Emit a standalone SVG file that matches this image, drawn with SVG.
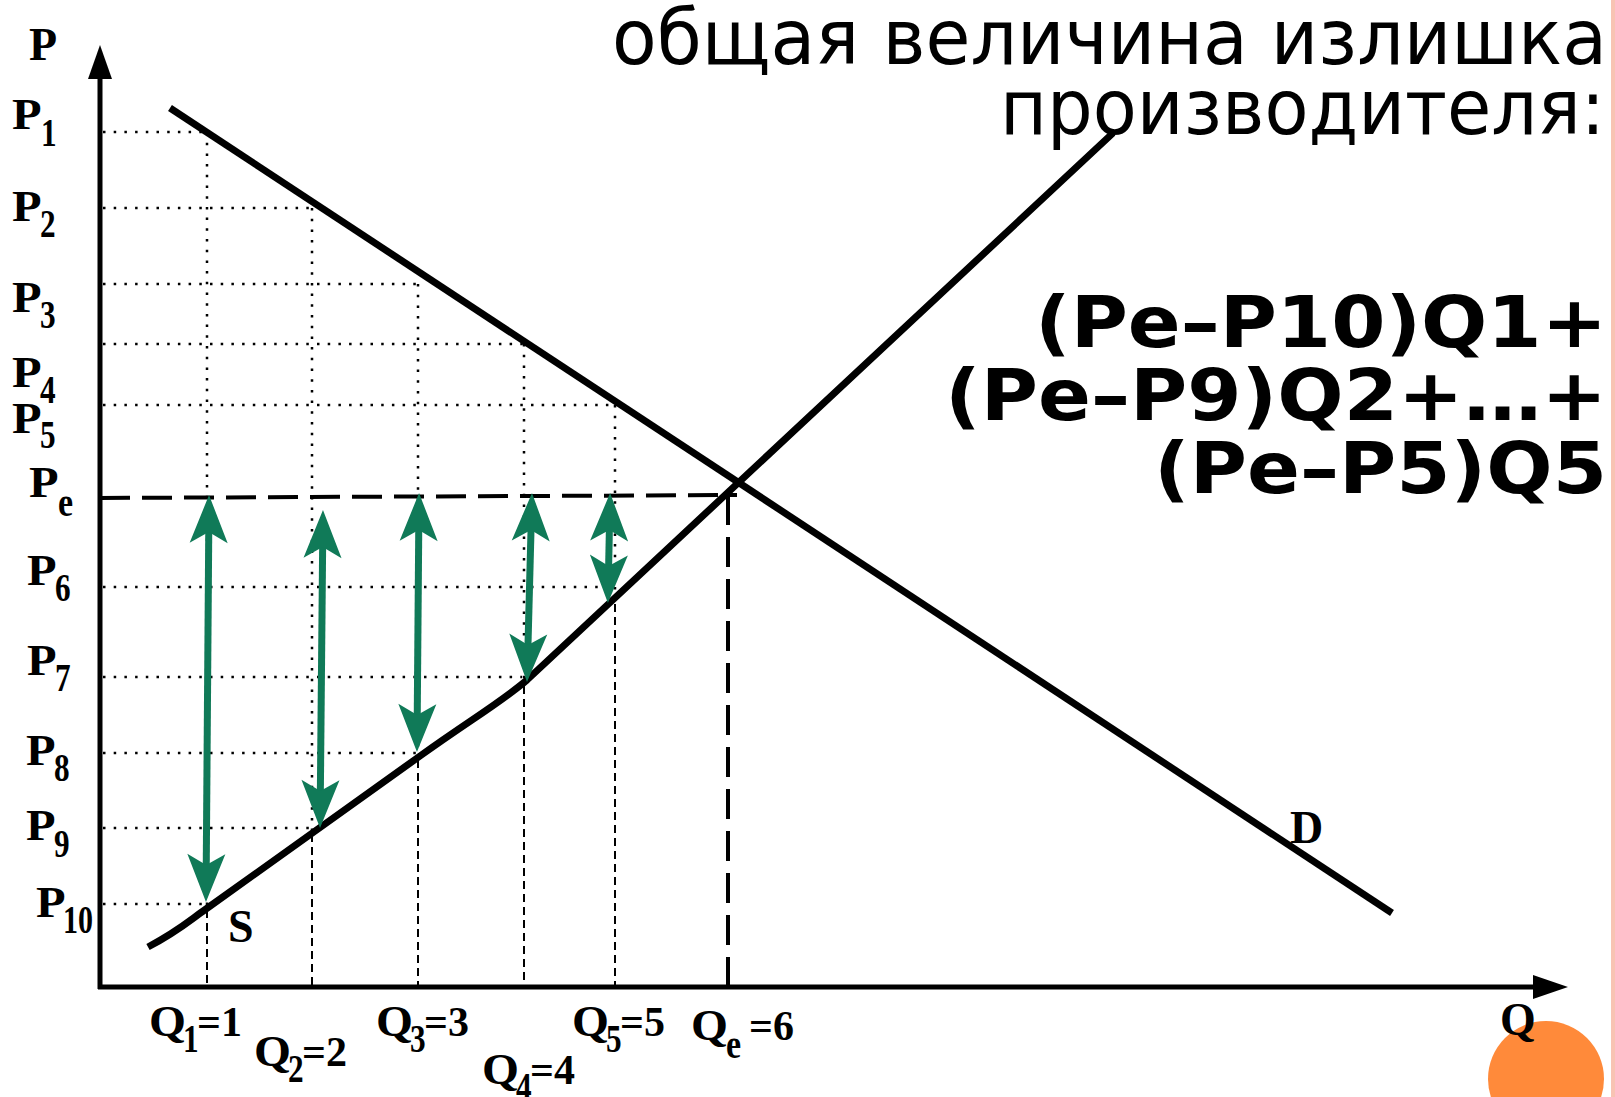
<svg xmlns="http://www.w3.org/2000/svg" width="1615" height="1097" viewBox="0 0 1615 1097">
<style>
.lb{font-family:"Liberation Serif","Times New Roman",serif;font-weight:bold;font-size:44px;fill:#000}
.eq{font-family:"Liberation Serif","Times New Roman",serif;font-weight:bold;font-size:42px;fill:#000}
.ax{font-family:"Liberation Serif","Times New Roman",serif;font-weight:bold;font-size:46px;fill:#000}
.sb{font-family:"Liberation Serif","Times New Roman",serif;font-weight:bold;font-size:40px;fill:#000}
.title{font-family:"DejaVu Sans","Verdana",sans-serif;font-size:76px;fill:#000}
.form{font-family:"DejaVu Sans","Verdana",sans-serif;font-weight:bold;font-size:71px;fill:#000}
.dot{stroke:#000;stroke-width:2.5;stroke-dasharray:2.5 8.2;fill:none}
.dsh{stroke:#000;stroke-width:2;stroke-dasharray:8 5;fill:none}
.big{stroke:#000;stroke-width:4;stroke-dasharray:30 12;fill:none}
.curve{stroke:#000;stroke-width:7;fill:none}
.axis{stroke:#000;stroke-width:5;fill:none}
.arr{stroke:#107A58;stroke-width:7;fill:none;marker-start:url(#gh);marker-end:url(#gh)}
</style>
<defs>
<marker id="gh" markerUnits="userSpaceOnUse" orient="auto-start-reverse" overflow="visible" markerWidth="60" markerHeight="40" refX="0" refY="0">
<path d="M30,0 L-18,-19 L-7,0 L-18,19 Z" fill="#107A58"/>
</marker>
</defs>
<rect width="1615" height="1097" fill="#fff"/>
<rect x="1611" y="0" width="4" height="1097" fill="#F8C3B3"/>
<circle cx="1546" cy="1079" r="58" fill="#FF8A3A"/>

<g id="grid">
<path class="dot" d="M103,132H207 M103,208H312 M103,284H418 M103,344H524 M103,405H615 M103,587H602 M103,677H522 M103,753H416 M103,828H312 M103,904H205"/>
<path class="dot" d="M207,132V905 M312,208V830 M418,284V755 M524,344V680 M615,405V600"/>
<path class="dsh" d="M207,910V985 M312,834V985 M418,760V985 M524,686V985 M615,604V985"/>
<path class="big" d="M100,498L737,495 M728,495V987"/>
</g>

<g id="axes">
<path class="axis" d="M100,989V76 M98,987H1535"/>
<path d="M100,45L88,79H112Z" fill="#000"/>
<path d="M1568,987L1533,975V999Z" fill="#000"/>
</g>

<g id="curves">
<path id="demand" class="curve" d="M170,108L1392,913"/>
<path id="supply" class="curve" d="M148,947C180,930 190,920 206,909L420,756C470,720 500,703 527,680L1113,133"/>
</g>

<g id="arrows">
<line class="arr" x1="208.8" y1="525" x2="206.2" y2="872"/>
<line class="arr" x1="322.7" y1="540" x2="320.3" y2="798"/>
<line class="arr" x1="418.8" y1="523" x2="417.2" y2="722"/>
<line class="arr" x1="531.2" y1="523" x2="527.8" y2="652"/>
<line class="arr" x1="609.5" y1="523" x2="608.5" y2="573"/>
</g>

<g id="labels">
<text class="ax" x="29" y="60">P</text>
<text class="ax" x="228" y="942">S</text>
<text class="ax" x="1290" y="843">D</text>
<text class="ax" x="1500" y="1035">Q</text>

<g id="p1"><text class="lb" transform="translate(12,129) scale(1.1,1)">P</text><text class="sb" transform="translate(41,146) scale(0.78,1)">1</text></g>
<g id="p2"><text class="lb" transform="translate(12,221) scale(1.1,1)">P</text><text class="sb" transform="translate(40,237) scale(0.78,1)">2</text></g>
<g id="p3"><text class="lb" transform="translate(12,312) scale(1.1,1)">P</text><text class="sb" transform="translate(40,328) scale(0.78,1)">3</text></g>
<g id="p4"><text class="lb" transform="translate(12,387) scale(1.1,1)">P</text><text class="sb" transform="translate(40,403) scale(0.78,1)">4</text></g>
<g id="p5"><text class="lb" transform="translate(12,433) scale(1.1,1)">P</text><text class="sb" transform="translate(40,448) scale(0.78,1)">5</text></g>
<g id="pe"><text class="lb" transform="translate(29,497) scale(1.1,1)">P</text><text class="sb" transform="translate(58,516) scale(0.85,1)">e</text></g>
<g id="p6"><text class="lb" transform="translate(27,585) scale(1.1,1)">P</text><text class="sb" transform="translate(55,601) scale(0.78,1)">6</text></g>
<g id="p7"><text class="lb" transform="translate(27,675) scale(1.1,1)">P</text><text class="sb" transform="translate(55,691) scale(0.78,1)">7</text></g>
<g id="p8"><text class="lb" transform="translate(26,765) scale(1.1,1)">P</text><text class="sb" transform="translate(54,781) scale(0.78,1)">8</text></g>
<g id="p9"><text class="lb" transform="translate(26,840) scale(1.1,1)">P</text><text class="sb" transform="translate(54,857) scale(0.78,1)">9</text></g>
<g id="p10"><text class="lb" transform="translate(36,917) scale(1.1,1)">P</text><text class="sb" transform="translate(63,933) scale(0.75,1)">10</text></g>

<g id="q1"><text class="lb" transform="translate(149,1036) scale(1.08,1)">Q</text><text class="sb" transform="translate(183,1052) scale(0.78,1)">1</text><text class="eq" x="197" y="1036">=1</text></g>
<g id="q2"><text class="lb" transform="translate(254,1066) scale(1.08,1)">Q</text><text class="sb" transform="translate(288,1082) scale(0.78,1)">2</text><text class="eq" x="302" y="1066">=2</text></g>
<g id="q3"><text class="lb" transform="translate(376,1036) scale(1.08,1)">Q</text><text class="sb" transform="translate(410,1052) scale(0.78,1)">3</text><text class="eq" x="424" y="1036">=3</text></g>
<g id="q4"><text class="lb" transform="translate(482,1084) scale(1.08,1)">Q</text><text class="sb" transform="translate(516,1100) scale(0.78,1)">4</text><text class="eq" x="530" y="1084">=4</text></g>
<g id="q5"><text class="lb" transform="translate(572,1036) scale(1.08,1)">Q</text><text class="sb" transform="translate(606,1052) scale(0.78,1)">5</text><text class="eq" x="620" y="1036">=5</text></g>
<g id="qe"><text class="lb" transform="translate(691,1040) scale(1.08,1)">Q</text><text class="sb" transform="translate(726,1058) scale(0.85,1)">e</text><text class="eq" x="749" y="1040">=6</text></g>
</g>

<g id="title">
<text class="title" x="612" y="64" textLength="995" lengthAdjust="spacingAndGlyphs">общая величина излишка</text>
<text class="title" x="1000" y="134" textLength="605" lengthAdjust="spacingAndGlyphs">производителя:</text>
</g>
<g id="formula">
<text class="form" x="1035" y="347" textLength="572" lengthAdjust="spacingAndGlyphs">(Pe–P10)Q1+</text>
<text class="form" x="945" y="420" textLength="662" lengthAdjust="spacingAndGlyphs">(Pe–P9)Q2+…+</text>
<text class="form" x="1154" y="493" textLength="453" lengthAdjust="spacingAndGlyphs">(Pe–P5)Q5</text>
</g>
</svg>
